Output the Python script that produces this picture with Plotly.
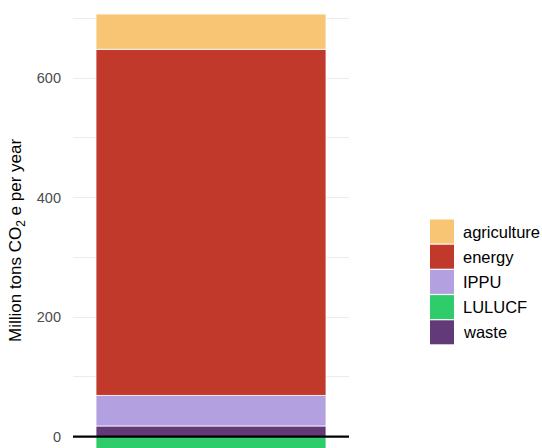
"""Stacked emissions bar by sector, ggplot-minimal look."""

import plotly.graph_objects as go

# Sector values (Mt CO2e / year)
sectors = ["waste", "IPPU", "energy", "agriculture", "LULUCF"]
values = [18, 51, 579, 59, -40]
category = ["total"]

# Legend order (alphabetical, as in the original)
legend_order = ["agriculture", "energy", "IPPU", "LULUCF", "waste"]

SECTOR_COLORS = {
    "agriculture": "#F7C574",
    "energy": "#C0392B",
    "IPPU": "#B3A0E0",
    "LULUCF": "#2ECC6A",
    "waste": "#633A78",
}

y_ticks = [0, 200, 400, 600]

FONT = "Liberation Sans, Arial, Helvetica, sans-serif"
W, H = 542, 448
L, R, T, B = 73, 193, 0, 0

fig = go.Figure()

for name, val in zip(sectors, values):
    fig.add_trace(go.Bar(
        x=category,
        y=[val],
        name=name,
        width=1.0,
        marker=dict(color=SECTOR_COLORS[name], line=dict(color="rgba(255,255,255,0.8)", width=1)),
        showlegend=False,
    ))

fig.update_layout(
    barmode="relative",
    width=W,
    height=H,
    margin=dict(l=L, r=R, t=T, b=B, pad=0),
    plot_bgcolor="white",
    paper_bgcolor="white",
    font=dict(family=FONT, size=12, color="#4D4D4D"),
)

fig.update_xaxes(
    range=[-0.6, 0.6],
    showticklabels=False,
    showgrid=False,
    zeroline=False,
    showline=False,
    ticks="",
)

fig.update_yaxes(
    range=[-18.9, 730.5],
    tickvals=y_ticks,
    ticktext=[str(v) for v in y_ticks],
    tickfont=dict(size=14.5, color="#4D4D4D"),
    ticklabelstandoff=11,
    showgrid=True,
    gridcolor="#EBEBEB",
    gridwidth=1,
    minor=dict(tickvals=[100, 300, 500, 700], showgrid=True, gridcolor="#EBEBEB", gridwidth=1),
    zeroline=False,
    showline=False,
    ticks="",
)

# black zero line across the panel
fig.add_shape(type="line", xref="paper", yref="y", x0=0, x1=1, y0=0, y1=0,
              line=dict(color="black", width=2.2), layer="above")

# y axis title
fig.add_annotation(
    text="Million tons CO<sub>2</sub> e per year",
    xref="paper", yref="paper",
    x=(17 - L) / (W - L - R), y=(H - 241) / H,
    xanchor="center", yanchor="middle",
    textangle=-90, showarrow=False,
    font=dict(family=FONT, size=17, color="black"),
)

# manual legend, ggplot style
plot_w = W - L - R
for i, name in enumerate(legend_order):
    top = 219.5 + 25.2 * i
    fig.add_shape(
        type="rect", xref="paper", yref="paper",
        x0=(430 - L) / plot_w, x1=(454 - L) / plot_w,
        y0=(H - top) / H, y1=(H - top - 24) / H,
        fillcolor=SECTOR_COLORS[name], line=dict(width=0),
    )
    fig.add_annotation(
        text=name, xref="paper", yref="paper",
        x=(461 - L) / plot_w, y=(H - top - 12) / H,
        xanchor="left", yanchor="middle", showarrow=False,
        font=dict(family=FONT, size=16.5, color="black"),
    )

fig.write_html(
    "out.html",
    config={"displayModeBar": False},
    post_script="document.body.style.margin = '0';",
)
